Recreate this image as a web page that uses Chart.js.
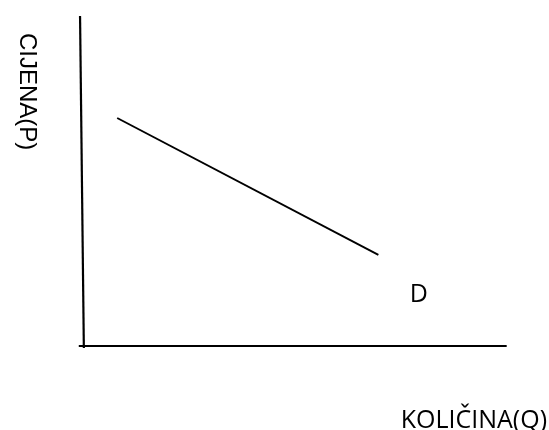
<!DOCTYPE html>
<html>
<head>
<meta charset="utf-8">
<script src="https://cdn.jsdelivr.net/npm/chart.js@4/dist/chart.umd.min.js"></script>
<style>
html,body{margin:0;padding:0;background:#fff;}
#wrap{width:549px;height:430px;position:relative;}
</style>
</head>
<body>
<div id="wrap"><canvas id="c" width="549" height="430"></canvas></div>
<script>
// Demand curve (quantity Q, price P) in abstract units 0..10
const demandQ = [0.81, 7.0];
const demandP = [6.91, 2.76];
// Axis lines
const axisHQ = [-0.1, 10.04];
const axisHP = [0, 0];
const axisVQ = [-0.07, 0.02];
const axisVP = [10, -0.06];
// Labels
const curveLabel = 'D';
const curveLabelPos = [7.96, 1.33];
const yTitle = 'CIJENA(P)';
const xTitle = 'KOLIČINA(Q)';

const toPts = (xs, ys) => xs.map((x, i) => ({x: x, y: ys[i]}));

const labelPlugin = {
  id: 'labels',
  afterDatasetsDraw(chart) {
    const ctx = chart.ctx;
    const xs = chart.scales.x, ys = chart.scales.y;
    ctx.save();
    ctx.fillStyle = '#000';
    // D label
    ctx.font = '25px "Open Sans"';
    ctx.textAlign = 'center';
    ctx.textBaseline = 'alphabetic';
    ctx.fillText(curveLabel, xs.getPixelForValue(curveLabelPos[0]), ys.getPixelForValue(curveLabelPos[1]));
    // x title
    ctx.textAlign = 'right';
    ctx.fillText(xTitle, 547, 428);
    // y title rotated clockwise
    ctx.translate(19.5, 33);
    ctx.rotate(Math.PI / 2);
    ctx.font = '24px "Liberation Sans"';
    ctx.textAlign = 'left';
    ctx.fillText(yTitle, 0, 0);
    ctx.restore();
  }
};

new Chart(document.getElementById('c'), {
  type: 'scatter',
  data: {
    datasets: [
      {data: toPts(demandQ, demandP), showLine: true, borderColor: '#000', borderWidth: 1.9, pointRadius: 0, clip: false},
      {data: toPts(axisHQ, axisHP), showLine: true, borderColor: '#000', borderWidth: 2.2, pointRadius: 0, clip: false},
      {data: toPts(axisVQ, axisVP), showLine: true, borderColor: '#000', borderWidth: 2.2, pointRadius: 0, clip: false}
    ]
  },
  options: {
    responsive: false,
    animation: false,
    layout: {padding: {left: 83, right: 44, top: 16, bottom: 84}},
    plugins: {legend: {display: false}, tooltip: {enabled: false}},
    scales: {
      x: {type: 'linear', min: 0, max: 10, display: false},
      y: {type: 'linear', min: 0, max: 10, display: false}
    }
  },
  plugins: [labelPlugin]
});
</script>
</body>
</html>
